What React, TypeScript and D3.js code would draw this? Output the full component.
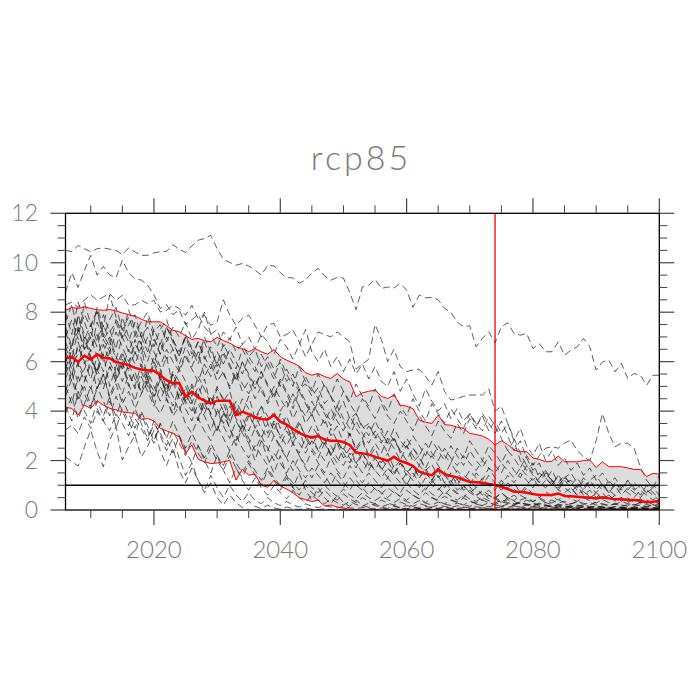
import React from "react";
import * as d3 from "d3";

// years 2006..2100
const years = d3.range(2006, 2101);

// ensemble mean and mean +/- one std
const meanValues = [
  6.13, 6.19, 5.99, 6.24, 6.09, 6.30, 6.16, 6.13, 5.99, 5.92,
  5.86, 5.75, 5.68, 5.65, 5.63, 5.45, 5.25, 5.12, 5.14, 4.58,
  4.78, 4.55, 4.42, 4.31, 4.42, 4.42, 4.42, 3.84, 3.97, 3.88,
  3.75, 3.68, 3.66, 3.84, 3.57, 3.45, 3.28, 3.12, 3.00, 2.93,
  2.99, 2.85, 2.80, 2.80, 2.75, 2.63, 2.32, 2.29, 2.25, 2.15,
  2.08, 1.99, 2.15, 1.98, 1.90, 1.78, 1.55, 1.46, 1.41, 1.64,
  1.45, 1.38, 1.32, 1.22, 1.14, 1.12, 1.10, 1.05, 1.01, 0.94,
  0.85, 0.74, 0.74, 0.70, 0.65, 0.61, 0.61, 0.61, 0.67, 0.57,
  0.56, 0.54, 0.52, 0.50, 0.47, 0.51, 0.47, 0.43, 0.43, 0.41,
  0.40, 0.38, 0.31, 0.33, 0.36,
];
const upperValues = [
  8.08, 8.19, 8.15, 8.22, 8.15, 8.10, 8.08, 8.11, 8.05, 7.97,
  7.90, 7.84, 7.72, 7.61, 7.61, 7.61, 7.45, 7.27, 7.21, 7.05,
  6.90, 6.94, 6.85, 6.80, 6.98, 6.85, 6.75, 6.60, 6.53, 6.40,
  6.53, 6.40, 6.30, 6.49, 6.20, 6.06, 5.95, 5.82, 5.55, 5.45,
  5.52, 5.40, 5.32, 5.52, 5.30, 5.18, 4.58, 4.74, 4.80, 4.85,
  4.60, 4.51, 4.65, 4.24, 4.20, 4.10, 3.64, 3.55, 3.50, 3.84,
  3.45, 3.43, 3.35, 3.30, 3.10, 3.05, 2.99, 2.86, 2.63, 2.80,
  2.65, 2.42, 2.36, 2.36, 2.10, 2.05, 1.95, 1.97, 2.18, 1.95,
  1.95, 1.95, 2.00, 2.02, 1.72, 1.95, 1.75, 1.75, 1.75, 1.70,
  1.64, 1.64, 1.35, 1.48, 1.45,
];
const lowerValues = [
  4.15, 4.11, 3.84, 4.24, 4.11, 4.42, 4.24, 4.11, 4.05, 3.97,
  3.93, 3.91, 3.66, 3.70, 3.60, 3.30, 3.20, 3.10, 2.95, 2.29,
  2.63, 2.05, 1.95, 1.88, 1.90, 1.95, 2.00, 1.21, 1.65, 1.41,
  1.45, 1.00, 0.92, 1.20, 0.97, 0.85, 0.70, 0.50, 0.42, 0.34,
  0.40, 0.16, 0.20, 0.12, 0.08, 0.03, 0, 0, 0, 0,
  0, 0, 0, 0, 0, 0, 0, 0, 0, 0,
  0, 0, 0, 0, 0, 0, 0, 0, 0, 0,
  0, 0, 0, 0, 0, 0, 0, 0, 0, 0,
  0, 0, 0, 0, 0, 0, 0, 0, 0, 0,
  0, 0, 0, 0, 0,
];

// individual ensemble members (dashed)
const memberA = [
  10.5, 10.45, 10.7, 10.57, 10.44, 10.57, 10.6, 10.55, 10.5, 10.33,
  10.6, 10.44, 10.3, 10.3, 10.4, 10.44, 10.46, 10.73, 10.55, 10.41,
  10.68, 10.91, 10.98, 11.11, 10.57, 10.14, 10.01, 9.9, 9.97, 9.87,
  9.7, 9.5, 9.9, 9.87, 9.6, 9.4, 9.39, 9.18, 9.3, 9.6,
  9.77, 9.47, 9.29, 9.41, 9.38, 8.8, 8.1, 9.02, 9.09, 9.33,
  8.96, 9.02, 8.98, 9.16, 8.89, 8.2, 8.69, 8.58, 8.6, 8.5,
  8.15, 8.0, 7.6, 7.41, 7.45, 6.6, 6.94, 7.21, 6.76, 7.41,
  7.57, 7.14, 7.07, 7.14, 6.53, 6.73, 6.4, 6.4, 6.8, 6.26,
  6.46, 6.6, 6.94, 6.6, 5.66, 5.99, 6.06, 5.59, 5.93, 5.32,
  5.52, 5.45, 5.05, 5.45, 5.45,
];
const memberB = [
  8.8, 9.6, 9.0, 9.7, 10.3, 9.5, 9.85, 9.5, 9.4, 10.1,
  9.6, 9.35, 9.3, 9.1, 8.7, 8.15, 8.3, 7.9, 8.1, 7.5,
  7.7, 7.9, 7.4, 7.1, 7.3, 6.6, 6.95, 6.4, 6.7, 6.2,
  6.5, 5.8, 6.2, 5.7, 5.95, 5.2, 5.5, 4.9, 5.1, 4.6,
  4.95, 4.3, 4.6, 3.9, 4.4, 3.7, 3.9, 3.3, 3.5, 2.9,
  3.3, 2.6, 2.95, 2.3, 2.6, 1.95, 2.2, 1.6, 1.85, 1.3,
  1.55, 1.0, 1.25, 0.8, 0.95, 0.6, 0.75, 0.45, 0.5, 0.35,
  0.42, 0.25, 0.3, 0.2, 0.26, 0.15, 0.2, 0.12, 0.16, 0.1,
  0.13, 0.08, 0.1, 0.07, 0.09, 0.06, 0.08, 0.05, 0.07, 0.05,
  0.06, 0.04, 0.05, 0.04, 0.05,
];
const memberC = [
  8.3, 8.4, 8.2, 8.5, 8.7, 8.48, 8.62, 8.75, 8.48, 8.69,
  8.28, 8.3, 8.48, 8.35, 8.48, 8.01, 8.08, 8.28, 8.15, 7.88,
  8.28, 7.75, 7.88, 7.47, 7.61, 8.5, 7.88, 7.47, 7.75, 7.88,
  7.47, 7.0, 7.5, 7.54, 7.0, 7.1, 7.27, 6.8, 6.2, 6.7,
  7.2, 7.1, 7.0, 7.2, 7.0, 6.8, 5.7, 5.9, 6.1, 7.5,
  6.9, 6.0, 6.5, 5.8, 5.6, 5.66, 5.7, 5.4, 5.05, 5.6,
  4.8, 4.45, 4.5, 4.6, 4.65, 4.65, 4.65, 4.9, 4.0, 4.2,
  3.5, 2.9, 2.3, 1.8, 1.5, 1.1, 0.9, 1.2, 0.8, 0.7,
  0.9, 0.6, 0.75, 0.5, 0.65, 0.45, 0.6, 0.4, 0.5, 0.35,
  0.45, 0.3, 0.4, 0.3, 0.35,
];
const memberD = [
  6.2, 5.4, 6.8, 5.9, 6.5, 7.1, 6.0, 6.6, 5.5, 6.3,
  5.8, 6.9, 6.1, 5.4, 6.2, 5.7, 4.9, 5.6, 5.2, 4.4,
  5.1, 4.6, 5.3, 4.2, 4.9, 4.5, 3.8, 4.4, 3.9, 4.6,
  3.7, 4.2, 3.5, 4.0, 3.3, 3.8, 3.1, 3.6, 2.9, 3.4,
  3.0, 2.6, 3.3, 2.8, 2.4, 3.1, 2.5, 2.9, 2.2, 2.7,
  2.3, 2.9, 2.5, 2.0, 2.6, 2.2, 1.8, 2.4, 2.1, 2.6,
  2.2, 1.9, 2.5, 2.1, 2.8, 2.4, 2.0, 2.6, 2.3, 1.9,
  2.4, 2.1, 1.7, 2.2, 1.8, 2.2, 2.5, 2.56, 2.5, 2.7,
  2.83, 2.4, 2.15, 2.0, 2.8, 3.9, 3.1, 2.56, 2.7, 2.7,
  2.5, 1.75, 1.2, 0.9, 1.4,
];
const memberE = [
  7.6, 8.3, 7.2, 7.9, 7.4, 8.1, 7.0, 7.7, 8.2, 7.3,
  7.8, 7.1, 7.6, 8.0, 7.2, 7.5, 6.8, 7.4, 7.0, 7.6,
  6.9, 7.3, 8.0, 7.1, 6.6, 7.2, 6.9, 7.4, 6.7, 7.0,
  6.5, 7.1, 6.8, 6.3, 6.9, 6.6, 6.1, 6.7, 7.3, 6.4,
  6.0, 6.5, 5.8, 6.2, 5.6, 6.1, 5.5, 5.9, 5.3, 5.8,
  5.2, 5.0, 5.6, 4.8, 5.3, 4.7, 4.2, 4.9, 4.4, 4.0,
  4.3, 3.7, 4.1, 3.6, 3.9, 3.4, 3.8, 3.2, 3.6, 3.1,
  3.5, 2.8, 3.3, 2.6, 2.2, 2.7, 2.0, 2.4, 1.8, 2.1,
  1.6, 1.9, 1.4, 1.7, 1.2, 1.5, 1.1, 1.3, 0.9, 1.2,
  0.8, 1.0, 0.7, 0.9, 0.6,
];
const memberF = [
  5.5, 6.3, 5.8, 6.9, 6.1, 5.6, 6.4, 7.0, 6.2, 5.7,
  6.5, 5.9, 6.6, 5.3, 6.0, 5.5, 6.2, 5.0, 5.7, 5.2,
  4.6, 5.4, 4.9, 4.3, 5.0, 4.4, 4.8, 3.9, 4.5, 4.1,
  3.6, 4.2, 3.8, 3.2, 3.9, 3.4, 2.9, 3.5, 3.0, 2.6,
  3.1, 2.7, 2.2, 2.8, 2.3, 1.9, 2.5, 2.0, 1.6, 2.1,
  1.7, 1.3, 1.8, 1.4, 1.0, 1.5, 1.1, 0.8, 1.2, 0.9,
  0.6, 0.9, 0.7, 0.5, 0.8, 0.55, 0.4, 0.6, 0.45, 0.3,
  0.5, 0.35, 0.25, 0.4, 0.3, 0.2, 0.3, 0.22, 0.15, 0.25,
  0.18, 0.12, 0.2, 0.14, 0.1, 0.16, 0.11, 0.08, 0.13, 0.09,
  0.07, 0.11, 0.08, 0.06, 0.09,
];
const memberG = [
  4.8, 5.6, 4.5, 5.2, 5.9, 4.9, 5.5, 4.6, 5.3, 6.0,
  5.1, 4.4, 5.4, 4.8, 4.2, 5.0, 4.5, 3.9, 4.7, 4.1,
  3.6, 4.3, 3.8, 3.2, 4.0, 3.4, 2.9, 3.6, 3.1, 2.7,
  3.3, 2.8, 2.4, 3.0, 2.5, 2.1, 2.7, 2.2, 1.8, 2.4,
  1.9, 1.5, 2.1, 1.6, 1.3, 1.8, 1.4, 1.1, 1.5, 1.2,
  0.9, 1.3, 1.0, 0.7, 1.1, 0.8, 0.6, 0.9, 0.65, 0.5,
  0.75, 0.55, 0.4, 0.6, 0.45, 0.35, 0.5, 0.38, 0.28, 0.4,
  0.3, 0.22, 0.33, 0.25, 0.18, 0.28, 0.2, 0.15, 0.24, 0.17,
  0.13, 0.2, 0.15, 0.11, 0.17, 0.12, 0.09, 0.14, 0.1, 0.08,
  0.12, 0.09, 0.07, 0.1, 0.08,
];
const memberH = [
  6.8, 6.1, 7.3, 6.5, 7.0, 6.2, 6.9, 6.4, 7.2, 6.6,
  6.0, 6.7, 6.3, 7.0, 6.4, 5.8, 6.5, 6.0, 5.6, 6.2,
  5.7, 5.2, 5.9, 5.4, 6.0, 5.5, 5.0, 5.6, 5.1, 4.7,
  5.3, 4.8, 4.4, 5.0, 4.5, 4.1, 4.7, 4.2, 3.8, 4.4,
  3.9, 3.5, 4.1, 3.6, 3.2, 3.8, 3.3, 2.9, 3.4, 3.0,
  2.7, 3.2, 2.8, 2.4, 2.9, 2.5, 2.2, 2.7, 2.3, 2.0,
  2.5, 2.1, 1.8, 2.2, 1.9, 1.6, 2.0, 1.7, 1.5, 1.9,
  1.6, 1.3, 1.7, 1.4, 1.2, 1.5, 1.3, 1.0, 1.4, 1.1,
  1.2, 0.9, 1.3, 1.0, 1.1, 0.8, 1.2, 0.9, 1.0, 0.8,
  1.1, 0.9, 0.7, 1.0, 0.8,
];
const memberI = [
  7.4, 6.6, 7.9, 7.1, 6.4, 7.6, 6.9, 7.3, 6.5, 7.8,
  7.0, 6.3, 7.2, 6.6, 5.9, 6.8, 6.1, 6.5, 5.7, 6.3,
  5.8, 6.4, 5.4, 5.9, 5.2, 5.6, 4.9, 5.5, 4.8, 5.2,
  4.5, 5.0, 4.3, 4.7, 4.0, 4.4, 3.7, 4.2, 3.5, 3.9,
  3.2, 3.7, 3.0, 3.4, 2.7, 3.1, 2.4, 2.8, 2.1, 2.5,
  1.9, 2.3, 1.7, 2.0, 1.5, 1.8, 1.3, 1.6, 1.1, 1.4,
  0.9, 1.2, 0.8, 1.0, 0.7, 0.9, 0.6, 0.8, 0.5, 0.7,
  0.45, 0.6, 0.4, 0.5, 0.35, 0.45, 0.3, 0.4, 0.28, 0.35,
  0.25, 0.32, 0.22, 0.3, 0.2, 0.26, 0.18, 0.24, 0.16, 0.21,
  0.15, 0.2, 0.14, 0.18, 0.13,
];
const memberJ = [
  4.2, 3.6, 4.8, 4.0, 3.5, 4.4, 3.8, 4.6, 3.3, 4.1,
  3.6, 3.0, 3.9, 3.2, 2.7, 3.5, 2.9, 2.3, 3.0, 2.4,
  1.9, 2.6, 2.0, 1.5, 2.2, 1.6, 1.1, 1.7, 1.2, 0.8,
  1.3, 0.9, 0.6, 1.0, 0.7, 0.45, 0.8, 0.5, 0.3, 0.6,
  0.4, 0.25, 0.45, 0.3, 0.2, 0.35, 0.22, 0.15, 0.28, 0.18,
  0.12, 0.22, 0.15, 0.1, 0.18, 0.12, 0.08, 0.14, 0.1, 0.07,
  0.12, 0.08, 0.06, 0.1, 0.07, 0.05, 0.09, 0.06, 0.04, 0.07,
  0.05, 0.04, 0.06, 0.04, 0.03, 0.05, 0.04, 0.03, 0.05, 0.03,
  0.04, 0.03, 0.02, 0.04, 0.03, 0.02, 0.03, 0.02, 0.03, 0.02,
  0.03, 0.02, 0.02, 0.03, 0.02,
];
const memberK = [
  5.9, 5.2, 6.0, 5.4, 4.9, 5.7, 5.1, 5.8, 5.3, 4.7,
  5.5, 4.9, 5.6, 5.0, 4.5, 5.3, 4.8, 4.2, 4.9, 4.4,
  4.0, 4.7, 4.1, 4.6, 3.8, 4.3, 3.6, 4.1, 3.4, 3.9,
  3.3, 3.8, 3.1, 3.6, 2.9, 3.4, 2.7, 3.2, 2.5, 3.0,
  2.4, 2.9, 2.2, 2.7, 2.1, 2.5, 1.9, 2.3, 1.8, 2.2,
  1.6, 2.0, 1.5, 1.9, 1.4, 1.8, 1.3, 1.7, 1.2, 1.6,
  1.1, 1.5, 1.0, 1.4, 1.2, 0.9, 1.3, 1.0, 0.8, 1.2,
  0.9, 1.1, 0.7, 1.0, 1.3, 0.9, 1.2, 1.6, 1.1, 1.4,
  1.0, 1.3, 0.9, 1.2, 0.8, 1.1, 0.7, 1.0, 0.6, 0.9,
  0.7, 0.5, 0.8, 0.6, 0.4,
];
const memberL1 = [
  2.15, 1.95, 1.78, 2.56, 3.23, 2.36, 1.75, 2.83, 3.37, 2.02,
  2.56, 3.03, 2.15, 2.56, 3.23, 2.4, 1.8, 2.5, 1.6, 1.1,
  1.7, 1.2, 0.8, 1.4, 0.9, 0.5, 1.0, 0.6, 0.35, 0.7,
  0.4, 0.25, 0.5, 0.3, 0.18, 0.35, 0.2, 0.12, 0.25, 0.15,
  0.1, 0.18, 0.12, 0.08, 0.14, 0.09, 0.06, 0.1, 0.07, 0.05,
  0.08, 0.06, 0.04, 0.07, 0.05, 0.04, 0.06, 0.04, 0.03, 0.05,
  0.04, 0.03, 0.05, 0.03, 0.02, 0.04, 0.03, 0.02, 0.03, 0.02,
  0.03, 0.02, 0.02, 0.03, 0.02, 0.02, 0.03, 0.02, 0.01, 0.02,
  0.02, 0.01, 0.02, 0.02, 0.01, 0.02, 0.01, 0.01, 0.02, 0.01,
  0.01, 0.02, 0.01, 0.01, 0.01,
];
const memberL2 = [
  3.23, 3.43, 3.1, 3.77, 3.3, 4.0, 3.6, 3.2, 3.9, 3.5,
  3.0, 3.7, 3.3, 2.8, 3.5, 3.1, 2.6, 3.2, 2.7, 2.2,
  2.8, 2.3, 1.9, 2.5, 2.0, 1.6, 2.2, 1.7, 1.3, 1.9,
  1.4, 1.0, 1.6, 1.2, 0.8, 1.3, 0.9, 0.6, 1.0, 0.7,
  0.5, 0.8, 0.55, 0.4, 0.65, 0.45, 0.3, 0.5, 0.35, 0.25,
  0.4, 0.28, 0.2, 0.32, 0.22, 0.15, 0.26, 0.18, 0.12, 0.2,
  0.14, 0.1, 0.17, 0.12, 0.08, 0.13, 0.09, 0.06, 0.11, 0.08,
  0.06, 0.09, 0.07, 0.05, 0.08, 0.06, 0.04, 0.07, 0.05, 0.04,
  0.06, 0.04, 0.03, 0.05, 0.04, 0.03, 0.05, 0.03, 0.04, 0.03,
  0.02, 0.04, 0.03, 0.02, 0.03,
];
const memberM = [
  7.0, 7.7, 6.9, 8.4, 7.5, 6.8, 7.9, 7.2, 7.6, 6.9,
  7.5, 7.9, 7.0, 7.4, 6.6, 7.3, 7.7, 6.9, 6.4, 7.0,
  6.3, 6.8, 6.1, 6.6, 5.8, 6.4, 5.9, 5.3, 6.0, 5.5,
  5.0, 5.6, 5.1, 4.6, 5.3, 4.8, 4.3, 4.9, 4.4, 3.9,
  4.5, 4.0, 3.6, 4.2, 3.7, 3.3, 3.9, 3.4, 3.0, 3.6,
  3.1, 2.7, 3.3, 2.8, 2.5, 3.0, 2.6, 2.2, 2.8, 2.4,
  2.0, 2.6, 2.2, 1.8, 2.4, 2.0, 1.7, 2.2, 1.8, 1.5,
  2.0, 1.6, 1.3, 1.8, 1.4, 1.1, 1.5, 1.2, 1.0, 1.3,
  1.1, 0.8, 1.2, 0.9, 0.7, 1.0, 0.8, 0.6, 0.9, 0.7,
  0.5, 0.8, 0.6, 0.4, 0.6,
];
const memberN = [
  6.4, 5.7, 6.6, 6.0, 5.3, 6.2, 5.6, 6.4, 5.9, 5.2,
  5.9, 5.3, 4.8, 5.6, 5.0, 4.4, 5.1, 4.6, 4.0, 4.7,
  4.2, 3.6, 4.3, 3.8, 3.2, 3.9, 3.3, 2.8, 3.5, 2.9,
  2.4, 3.0, 2.5, 2.0, 2.6, 2.1, 1.6, 2.2, 1.7, 1.3,
  1.8, 1.4, 1.0, 1.5, 1.1, 0.8, 1.2, 0.9, 0.6, 0.9,
  0.7, 0.5, 0.75, 0.55, 0.4, 0.6, 0.45, 0.3, 0.5, 0.35,
  0.25, 0.4, 0.3, 0.2, 0.35, 0.25, 0.18, 0.3, 0.2, 0.15,
  0.24, 0.17, 0.12, 0.2, 0.14, 0.1, 0.16, 0.12, 0.08, 0.13,
  0.1, 0.07, 0.12, 0.08, 0.06, 0.1, 0.07, 0.05, 0.08, 0.06,
  0.05, 0.07, 0.05, 0.04, 0.06,
];
const memberO = [
  5.0, 4.3, 5.4, 4.7, 4.1, 5.0, 4.4, 3.8, 4.6, 4.0,
  3.4, 4.1, 3.5, 2.9, 3.6, 3.0, 2.4, 2.9, 2.1, 1.4,
  1.9, 1.2, 0.7, 1.1, 0.5, 0.2, 0.6, 0.3, 0.1, 0.35,
  0.15, 0.05, 0.2, 0.08, 0.03, 0.12, 0.05, 0.02, 0.08, 0.03,
  0.02, 0.05, 0.02, 0.01, 0.04, 0.02, 0.01, 0.03, 0.01, 0.02,
  0.01, 0.02, 0.01, 0.01, 0.02, 0.01, 0.01, 0.02, 0.01, 0.01,
  0.01, 0.01, 0.02, 0.01, 0.01, 0.01, 0.01, 0.01, 0.01, 0.01,
  0.01, 0.01, 0.01, 0.01, 0.01, 0.01, 0.01, 0.01, 0.01, 0.01,
  0.01, 0.01, 0.01, 0.01, 0.01, 0.01, 0.01, 0.01, 0.01, 0.01,
  0.01, 0.01, 0.01, 0.01, 0.01,
];
const memberP = [
  6.0, 6.7, 7.4, 6.5, 7.2, 6.6, 7.5, 6.8, 6.1, 7.0,
  6.4, 7.1, 6.7, 6.0, 6.9, 6.3, 7.0, 6.5, 5.9, 6.6,
  6.1, 6.8, 6.2, 5.7, 6.4, 5.9, 6.5, 6.0, 5.5, 6.2,
  5.8, 5.3, 6.0, 5.5, 5.0, 5.7, 5.2, 4.8, 5.4, 4.9,
  4.5, 5.1, 4.6, 4.2, 4.8, 4.3, 3.9, 4.5, 4.1, 3.7,
  4.3, 3.8, 3.5, 4.0, 3.6, 3.2, 3.8, 3.4, 3.0, 3.6,
  3.2, 2.9, 3.5, 3.1, 3.7, 3.3, 3.9, 3.5, 3.1, 3.6,
  3.0, 2.4, 2.8, 2.1, 1.6, 1.9, 1.3, 1.0, 1.4, 0.9,
  0.7, 1.0, 0.6, 0.8, 0.5, 0.7, 0.4, 0.6, 0.35, 0.5,
  0.3, 0.45, 0.28, 0.35, 0.25,
];
const memberQ = [
  8.0, 7.1, 8.4, 7.6, 6.9, 8.2, 7.4, 8.7, 7.8, 7.0,
  8.1, 7.3, 6.7, 7.8, 7.0, 6.3, 7.4, 6.8, 6.2, 7.1,
  6.5, 5.9, 6.8, 6.1, 5.5, 6.3, 5.8, 5.2, 6.0, 5.4,
  4.9, 5.6, 5.0, 4.5, 5.2, 4.7, 4.1, 4.8, 4.3, 3.8,
  4.4, 3.9, 3.4, 4.0, 3.5, 3.0, 3.6, 3.1, 2.7, 3.2,
  2.8, 2.3, 2.9, 2.4, 2.0, 2.5, 2.1, 1.7, 2.2, 1.8,
  1.4, 1.9, 1.5, 1.2, 1.6, 1.3, 1.0, 1.4, 1.1, 0.8,
  1.1, 0.85, 0.6, 0.9, 0.65, 0.5, 0.75, 0.55, 0.4, 0.6,
  0.45, 0.35, 0.5, 0.38, 0.28, 0.42, 0.3, 0.22, 0.34, 0.26,
  0.2, 0.3, 0.22, 0.17, 0.25,
];
const memberR = [
  5.3, 6.0, 5.1, 5.7, 6.3, 5.4, 4.9, 5.8, 5.2, 5.9,
  5.0, 5.6, 4.7, 5.3, 4.8, 5.5, 4.6, 5.2, 4.5, 4.9,
  4.3, 5.0, 4.4, 3.9, 4.6, 4.0, 3.5, 4.2, 3.7, 3.2,
  3.8, 3.3, 2.9, 3.5, 3.0, 2.6, 3.1, 2.7, 2.3, 2.8,
  2.4, 2.0, 2.6, 2.1, 1.8, 2.3, 1.9, 1.5, 2.0, 1.6,
  1.3, 1.7, 1.4, 1.1, 1.5, 1.2, 0.9, 1.3, 1.0, 0.8,
  1.1, 0.85, 0.65, 0.95, 0.7, 0.55, 0.8, 0.6, 0.45, 0.7,
  0.5, 0.38, 0.6, 0.45, 0.33, 0.5, 0.37, 0.28, 0.42, 0.3,
  0.24, 0.36, 0.27, 0.2, 0.31, 0.23, 0.17, 0.27, 0.2, 0.15,
  0.23, 0.17, 0.13, 0.2, 0.15,
];
const memberS = [
  4.6, 5.3, 4.4, 5.0, 4.2, 4.9, 5.5, 4.5, 5.1, 4.3,
  4.8, 4.1, 4.7, 5.2, 4.3, 3.9, 4.5, 3.8, 4.2, 3.5,
  3.1, 3.7, 3.2, 2.8, 3.4, 2.9, 2.4, 3.0, 2.5, 2.1,
  2.6, 2.2, 1.8, 2.3, 1.9, 1.5, 2.0, 1.6, 1.3, 1.7,
  1.4, 1.1, 1.5, 1.2, 0.9, 1.3, 1.0, 0.8, 1.1, 0.85,
  0.65, 0.9, 0.7, 0.55, 0.8, 0.6, 0.45, 0.7, 0.5, 0.4,
  0.55, 0.42, 0.32, 0.48, 0.36, 0.28, 0.4, 0.3, 0.22, 0.34,
  0.26, 0.2, 0.3, 0.22, 0.17, 0.25, 0.19, 0.14, 0.21, 0.16,
  0.12, 0.18, 0.14, 0.1, 0.15, 0.11, 0.08, 0.13, 0.1, 0.07,
  0.11, 0.08, 0.06, 0.09, 0.07,
];
const memberT = [
  7.2, 6.5, 7.8, 6.9, 7.5, 8.0, 7.1, 6.6, 7.7, 7.3,
  6.8, 7.6, 7.0, 6.4, 7.3, 6.7, 7.4, 6.9, 6.2, 7.0,
  6.6, 6.1, 7.0, 6.4, 5.9, 6.7, 6.2, 5.7, 6.5, 6.0,
  5.6, 6.3, 5.8, 5.3, 6.1, 5.5, 5.0, 5.8, 5.2, 4.8,
  5.5, 5.0, 4.6, 5.3, 4.8, 4.4, 5.1, 4.6, 4.2, 4.9,
  4.4, 4.0, 4.7, 4.2, 3.8, 4.5, 4.0, 3.6, 4.3, 3.9,
  3.5, 4.1, 3.7, 3.3, 3.9, 3.5, 3.2, 3.8, 3.4, 2.9,
  2.4, 2.8, 2.0, 1.6, 1.9, 1.3, 1.6, 1.1, 0.8, 1.2,
  0.9, 0.6, 0.85, 0.5, 0.7, 0.45, 0.6, 0.35, 0.5, 0.3,
  0.42, 0.28, 0.36, 0.22, 0.3,
];
const memberU = [
  5.7, 6.5, 5.9, 5.2, 6.1, 5.5, 6.3, 5.0, 5.8, 6.4,
  5.6, 5.0, 5.9, 5.3, 4.6, 5.4, 4.8, 5.5, 4.5, 5.0,
  4.4, 3.7, 4.5, 3.9, 3.2, 4.0, 3.3, 2.6, 3.4, 2.7,
  2.0, 2.8, 2.1, 1.5, 2.2, 1.4, 0.9, 1.5, 0.8, 0.4,
  0.9, 0.5, 0.25, 0.6, 0.3, 0.15, 0.4, 0.2, 0.1, 0.25,
  0.12, 0.06, 0.18, 0.08, 0.04, 0.12, 0.06, 0.03, 0.09, 0.04,
  0.03, 0.06, 0.03, 0.02, 0.05, 0.03, 0.02, 0.04, 0.02, 0.02,
  0.03, 0.02, 0.02, 0.03, 0.02, 0.02, 0.02, 0.02, 0.02, 0.02,
  0.02, 0.02, 0.02, 0.02, 0.02, 0.02, 0.02, 0.02, 0.02, 0.02,
  0.02, 0.02, 0.02, 0.02, 0.02,
];
const memberV = [
  6.6, 5.9, 6.3, 7.0, 6.2, 5.6, 6.7, 6.0, 5.4, 6.1,
  5.7, 6.4, 5.8, 5.1, 5.9, 5.3, 4.7, 5.5, 4.9, 4.3,
  5.0, 4.5, 3.9, 4.6, 4.1, 3.5, 4.2, 3.7, 3.1, 3.8,
  3.4, 2.9, 3.5, 3.0, 2.6, 3.2, 2.7, 2.3, 2.9, 2.5,
  2.1, 2.7, 2.3, 1.9, 2.5, 2.1, 1.7, 2.3, 1.9, 1.6,
  2.1, 1.7, 1.4, 1.9, 1.6, 1.3, 1.8, 1.5, 1.2, 1.7,
  1.4, 1.1, 1.6, 1.3, 1.0, 1.5, 1.2, 1.7, 1.3, 1.0,
  1.4, 1.1, 1.5, 1.2, 0.9, 1.3, 1.6, 1.2, 0.9, 1.3,
  1.5, 1.1, 0.8, 1.2, 1.4, 1.0, 0.7, 1.1, 0.8, 1.2,
  0.9, 0.6, 1.0, 0.7, 0.5,
];
const memberW = [
  3.9, 4.6, 3.7, 4.3, 5.0, 4.1, 3.6, 4.4, 3.8, 4.5,
  3.9, 3.3, 4.0, 3.4, 2.8, 3.5, 2.9, 3.6, 3.0, 2.5,
  3.1, 2.6, 2.1, 2.7, 2.2, 1.8, 2.4, 1.9, 1.5, 2.0,
  1.6, 1.2, 1.7, 1.3, 1.0, 1.4, 1.1, 0.8, 1.2, 0.9,
  0.7, 1.0, 0.75, 0.55, 0.85, 0.6, 0.45, 0.7, 0.5, 0.38,
  0.55, 0.42, 0.3, 0.46, 0.34, 0.25, 0.38, 0.28, 0.2, 0.32,
  0.24, 0.18, 0.28, 0.2, 0.15, 0.24, 0.17, 0.13, 0.2, 0.15,
  0.11, 0.17, 0.12, 0.09, 0.14, 0.1, 0.08, 0.12, 0.09, 0.07,
  0.1, 0.08, 0.06, 0.09, 0.07, 0.05, 0.08, 0.06, 0.05, 0.07,
  0.05, 0.04, 0.06, 0.04, 0.05,
];

const members = [
  memberA, memberB, memberC, memberD, memberE, memberF, memberG, memberH,
  memberI, memberJ, memberK, memberL1, memberL2, memberM, memberN, memberO,
  memberP, memberQ, memberR, memberS, memberT, memberU, memberV, memberW,
];

const title = "rcp85";
const xMajorTicks = [2020, 2040, 2060, 2080, 2100];
const xMinorTicks = [2010, 2015, 2025, 2030, 2035, 2045, 2050, 2055, 2065, 2070, 2075, 2085, 2090, 2095];
const yMajorTicks = [0, 2, 4, 6, 8, 10, 12];
const yMinorTicks = [0.5, 1, 1.5, 2.5, 3, 3.5, 4.5, 5, 5.5, 6.5, 7, 7.5, 8.5, 9, 9.5, 10.5, 11, 11.5];
const threshold = 1;
const crossingYear = 2074;

const App = () => {
  const left = 65.5, right = 659.3, top = 213.3, bottom = 510;
  const x = d3.scaleLinear().domain([2006, 2100]).range([left, right]);
  const y = d3.scaleLinear().domain([0, 12]).range([bottom, top]);

  const line = d3.line<number>().x((d, i) => x(years[i])).y(d => y(d));
  const band = d3.area<number>()
    .x((d, i) => x(years[i]))
    .y0((d, i) => y(lowerValues[i]))
    .y1(d => y(d));

  const labelFont = "Lato, 'DejaVu Sans', sans-serif";
  const tickColor = "#444";
  const textColor = "#7a7a7a";

  return (
    <svg width={700} height={700} style={{ position: "absolute", left: 0, top: 0, background: "#fff" }}>
      <defs>
        <clipPath id="plotclip">
          <rect x={left} y={top} width={right - left} height={bottom - top} />
        </clipPath>
      </defs>

      <text x={361} y={170} textAnchor="middle" fontFamily={labelFont} fontWeight={300}
        fontSize={34} fill={textColor} letterSpacing={3}>{title}</text>

      <g clipPath="url(#plotclip)">
        <path d={band(upperValues) || ""} fill="#dcdcdc" stroke="none" />
        {members.map((m, k) => (
          <path key={k} d={line(m) || ""} fill="none" stroke="#111" strokeWidth={0.8}
            strokeDasharray="7,4" strokeOpacity={0.85} />
        ))}
        <path d={line(upperValues) || ""} fill="none" stroke="#ff0000" strokeWidth={1} />
        <path d={line(lowerValues) || ""} fill="none" stroke="#ff0000" strokeWidth={1} />
        <path d={line(meanValues) || ""} fill="none" stroke="#ff0000" strokeWidth={2.5} />
      </g>

      <line x1={left} x2={right} y1={y(threshold)} y2={y(threshold)} stroke="#000" strokeWidth={1.5} />
      <line x1={x(crossingYear)} x2={x(crossingYear)} y1={top} y2={bottom} stroke="#ff0000" strokeWidth={1.3} />

      {/* frame */}
      <rect x={left} y={top} width={right - left} height={bottom - top} fill="none" stroke="#000" strokeWidth={1.3} />

      {/* x ticks, bottom and top (outward) */}
      {xMajorTicks.map(t => (
        <g key={"xM" + t}>
          <line x1={x(t)} x2={x(t)} y1={bottom} y2={bottom + 15} stroke={tickColor} strokeWidth={1.2} />
          <line x1={x(t)} x2={x(t)} y1={top} y2={top - 15} stroke={tickColor} strokeWidth={1.2} />
        </g>
      ))}
      {xMinorTicks.map(t => (
        <g key={"xm" + t}>
          <line x1={x(t)} x2={x(t)} y1={bottom} y2={bottom + 8} stroke={tickColor} strokeWidth={1} />
          <line x1={x(t)} x2={x(t)} y1={top} y2={top - 8} stroke={tickColor} strokeWidth={1} />
        </g>
      ))}
      {xMajorTicks.map(t => (
        <text key={"xl" + t} x={x(t)} y={558} textAnchor="middle" fontFamily={labelFont} fontWeight={300}
          fontSize={24} fill={textColor}>{String(t)}</text>
      ))}

      {/* y ticks, left and right (outward) */}
      {yMajorTicks.map(t => (
        <g key={"yM" + t}>
          <line x1={left} x2={left - 15} y1={y(t)} y2={y(t)} stroke={tickColor} strokeWidth={1.2} />
          <line x1={right} x2={right + 15} y1={y(t)} y2={y(t)} stroke={tickColor} strokeWidth={1.2} />
        </g>
      ))}
      {yMinorTicks.map(t => (
        <g key={"ym" + t}>
          <line x1={left} x2={left - 8} y1={y(t)} y2={y(t)} stroke={tickColor} strokeWidth={1} />
          <line x1={right} x2={right + 8} y1={y(t)} y2={y(t)} stroke={tickColor} strokeWidth={1} />
        </g>
      ))}
      {yMajorTicks.map(t => (
        <text key={"yl" + t} x={38} y={y(t) + 8} textAnchor="end" fontFamily={labelFont} fontWeight={300}
          fontSize={23} fill={textColor}>{String(t)}</text>
      ))}
    </svg>
  );
};

export default App;
